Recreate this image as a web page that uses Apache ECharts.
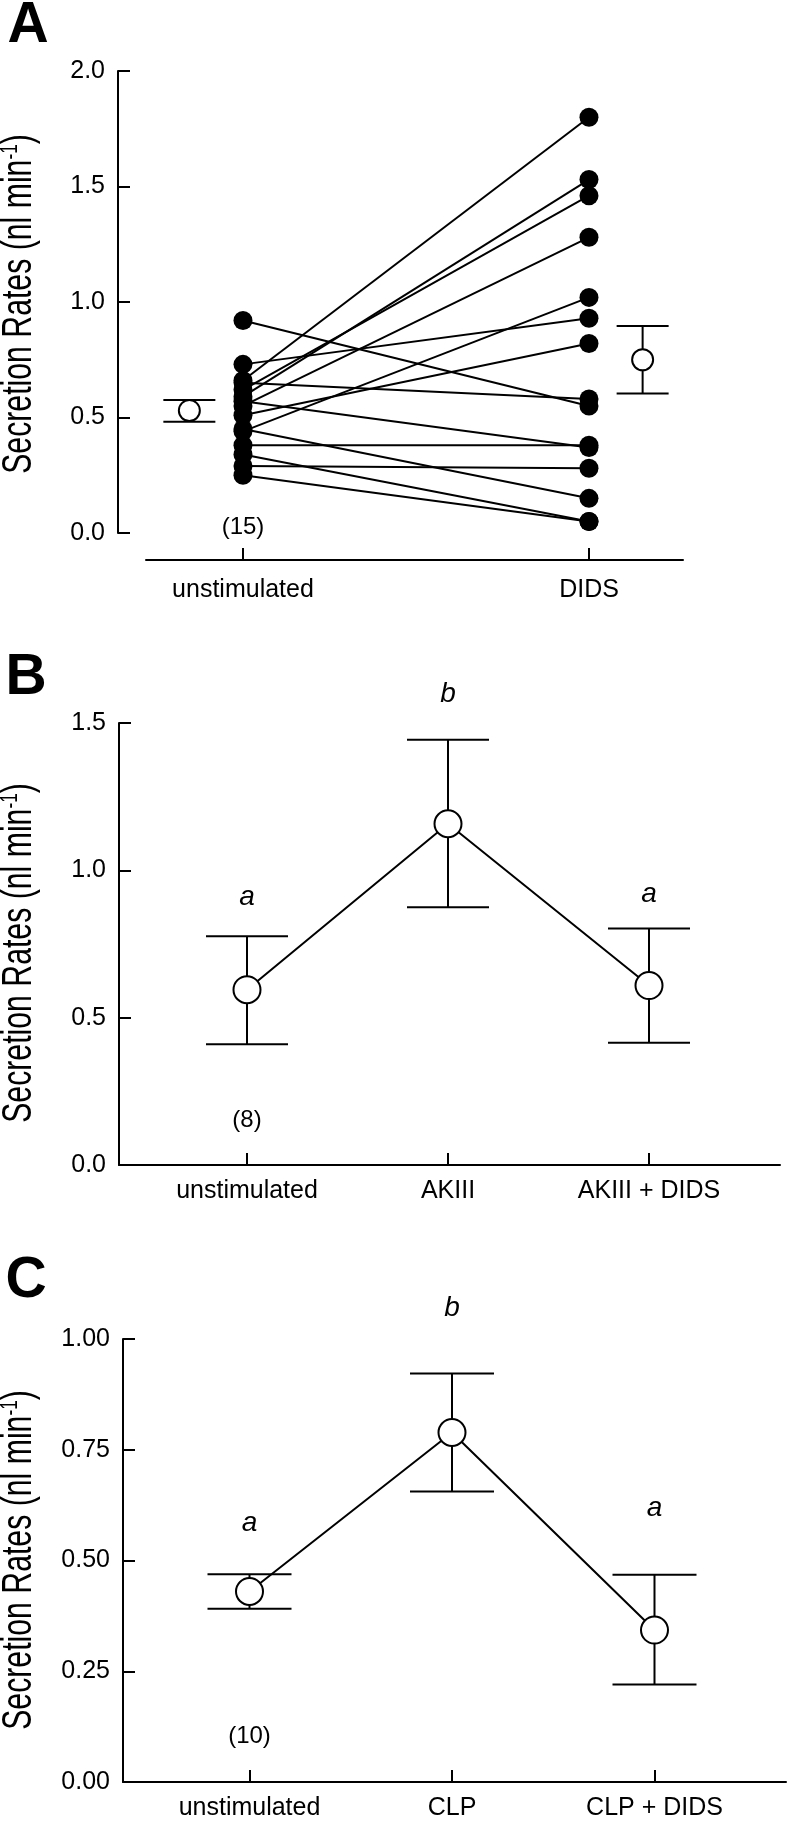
<!DOCTYPE html>
<html>
<head>
<meta charset="utf-8">
<script src="https://cdn.jsdelivr.net/npm/echarts@6/dist/echarts.min.js"></script>
<style>
  html, body { margin: 0; padding: 0; background: #fff; }
  #chart { width: 790px; height: 1822px; }
</style>
</head>
<body>
<div id="chart"></div>
<script>
// panel A: paired rates, unstimulated vs DIDS (n = 15)
const pairCategories = ['unstimulated', 'DIDS'];
const unstimValues = [0.92, 0.66, 0.62, 0.59, 0.55, 0.44, 0.73, 0.51, 0.65, 0.57, 0.38, 0.45, 0.29, 0.34, 0.25];
const didsValues = [0.55, 1.80, 1.46, 1.53, 1.28, 1.02, 0.93, 0.82, 0.58, 0.37, 0.38, 0.15, 0.28, 0.05, 0.05];
const pairMeans = [0.53, 0.75];
const pairErrLow = [0.482, 0.604];
const pairErrHigh = [0.576, 0.896];
const pairN = '(15)';

// panel B: AKIII
const akCategories = ['unstimulated', 'AKIII', 'AKIII + DIDS'];
const akMeans = [0.595, 1.158, 0.609];
const akErrLow = [0.41, 0.875, 0.415];
const akErrHigh = [0.776, 1.443, 0.803];
const akLetters = ['a', 'b', 'a'];
const akLetterY = [0.908, 1.597, 0.92];
const akN = '(8)';

// panel C: CLP
const clpCategories = ['unstimulated', 'CLP', 'CLP + DIDS'];
const clpMeans = [0.43, 0.789, 0.343];
const clpErrLow = [0.391, 0.656, 0.22];
const clpErrHigh = [0.469, 0.922, 0.468];
const clpLetters = ['a', 'b', 'a'];
const clpLetterY = [0.584, 1.07, 0.617];
const clpN = '(10)';

const FONT = '"Liberation Sans", Arial, sans-serif';
const BLACK = '#000';
const MEAN_SHIFT = 0.155;

const lineStyle = { color: BLACK, width: 2 };

function yAxisFor(gridIndex, max, interval, digits, offset) {
  return {
    type: 'value',
    gridIndex,
    min: 0,
    max,
    interval,
    offset,
    axisLine: { show: true, onZero: false, lineStyle },
    axisTick: { show: true, inside: true, length: 12, lineStyle },
    axisLabel: {
      formatter: (v) => v.toFixed(digits),
      color: BLACK,
      fontSize: 25,
      fontFamily: FONT,
      margin: 13,
    },
    splitLine: { show: false },
  };
}

function xAxisFor(gridIndex, min, max, names, offset, margin) {
  const idx = names.map((_, i) => i);
  return {
    type: 'value',
    gridIndex,
    min,
    max,
    offset,
    axisLine: { show: true, onZero: false, lineStyle },
    axisTick: { show: true, inside: true, length: 12, customValues: idx, lineStyle },
    axisLabel: {
      customValues: idx,
      formatter: (v) => names[Math.round(v)],
      color: BLACK,
      fontSize: 25,
      fontFamily: FONT,
      margin,
    },
    splitLine: { show: false },
  };
}

function errorBars(axisIndex, xs, lows, highs, halfCap) {
  return {
    type: 'custom',
    xAxisIndex: axisIndex,
    yAxisIndex: axisIndex,
    z: 2,
    silent: true,
    clip: false,
    data: xs.map((x, i) => [x, lows[i], highs[i]]),
    renderItem(params, api) {
      const lo = api.coord([api.value(0), api.value(1)]);
      const hi = api.coord([api.value(0), api.value(2)]);
      const style = { stroke: BLACK, lineWidth: 2 };
      return {
        type: 'group',
        children: [
          { type: 'line', shape: { x1: hi[0], y1: hi[1], x2: lo[0], y2: lo[1] }, style },
          { type: 'line', shape: { x1: hi[0] - halfCap, y1: hi[1], x2: hi[0] + halfCap, y2: hi[1] }, style },
          { type: 'line', shape: { x1: lo[0] - halfCap, y1: lo[1], x2: lo[0] + halfCap, y2: lo[1] }, style },
        ],
      };
    },
  };
}

function meanLine(axisIndex, means, size, connect) {
  return {
    type: connect ? 'line' : 'scatter',
    xAxisIndex: axisIndex,
    yAxisIndex: axisIndex,
    z: 4,
    silent: true,
    clip: false,
    data: means,
    symbol: 'circle',
    symbolSize: size,
    showSymbol: true,
    itemStyle: { color: '#fff', borderColor: BLACK, borderWidth: 2, opacity: 1 },
    lineStyle,
  };
}

function textMarks(axisIndex, points, texts, style, offset) {
  return {
    type: 'scatter',
    xAxisIndex: axisIndex,
    yAxisIndex: axisIndex,
    z: 5,
    silent: true,
    clip: false,
    symbolSize: 0,
    itemStyle: { opacity: 1 },
    data: points,
    label: {
      show: true,
      position: 'inside',
      offset: offset || [0, 0],
      formatter: (p) => texts[p.dataIndex],
      color: BLACK,
      fontFamily: FONT,
      ...style,
    },
  };
}

function yTitle(x, y) {
  return {
    type: 'text',
    x,
    y,
    rotation: Math.PI / 2,
    scaleX: 0.72,
    style: {
      text: '{n|Secretion Rates (nl min}{s|-1}{n|)}',
      rich: {
        n: { fontSize: 42, fontFamily: FONT, color: BLACK },
        s: { fontSize: 24, fontFamily: FONT, color: BLACK, verticalAlign: 'top' },
      },
      align: 'center',
      verticalAlign: 'middle',
      fill: BLACK,
    },
  };
}

function panelLetter(text, x, y) {
  return {
    type: 'text',
    x,
    y,
    style: {
      text,
      font: 'bold 57px ' + FONT,
      fill: BLACK,
      align: 'center',
      verticalAlign: 'middle',
    },
  };
}

const pairSeries = unstimValues.map((u, i) => ({
  type: 'line',
  xAxisIndex: 0,
  yAxisIndex: 0,
  z: 3,
  silent: true,
  data: [[0, u], [1, didsValues[i]]],
  symbol: 'circle',
  symbolSize: 19,
  itemStyle: { color: BLACK, opacity: 1 },
  lineStyle,
}));

const chart = echarts.init(document.getElementById('chart'));
chart.setOption({
  animation: false,
  backgroundColor: '#fff',
  grid: [
    { left: 146, top: 71, width: 537, height: 462 },
    { left: 119, top: 723, width: 661, height: 442 },
    { left: 123, top: 1339, width: 663, height: 443 },
  ],
  xAxis: [
    xAxisFor(0, -0.2803, 1.2717, pairCategories, 27, 18),
    xAxisFor(1, -0.6368, 2.6517, akCategories, 0, 14),
    xAxisFor(2, -0.6247, 2.6494, clpCategories, 0, 14),
  ],
  yAxis: [
    yAxisFor(0, 2, 0.5, 1, 28),
    yAxisFor(1, 1.5, 0.5, 1, 0),
    yAxisFor(2, 1, 0.25, 2, 0),
  ],
  graphic: [
    panelLetter('A', 28, 26),
    panelLetter('B', 26, 678),
    panelLetter('C', 26, 1281),
    yTitle(19, 304),
    yTitle(19, 953),
    yTitle(19, 1560),
  ],
  series: [
    ...pairSeries,
    errorBars(0, [-MEAN_SHIFT, 1 + MEAN_SHIFT], pairErrLow, pairErrHigh, 26),
    meanLine(0, pairMeans.map((m, i) => [i === 0 ? -MEAN_SHIFT : 1 + MEAN_SHIFT, m]), 21, false),
    textMarks(0, [[0, 0]], [pairN], { fontSize: 24 }, [0, -6]),

    errorBars(1, [0, 1, 2], akErrLow, akErrHigh, 41),
    meanLine(1, akMeans.map((m, i) => [i, m]), 27, true),
    textMarks(1, akLetterY.map((v, i) => [i, v]), akLetters, { fontSize: 28, fontStyle: 'italic' }),
    textMarks(1, [[0, 0]], [akN], { fontSize: 24 }, [0, -45]),

    errorBars(2, [0, 1, 2], clpErrLow, clpErrHigh, 42),
    meanLine(2, clpMeans.map((m, i) => [i, m]), 27, true),
    textMarks(2, clpLetterY.map((v, i) => [i, v]), clpLetters, { fontSize: 28, fontStyle: 'italic' }),
    textMarks(2, [[0, 0]], [clpN], { fontSize: 24 }, [0, -46]),
  ],
});
</script>
</body>
</html>
